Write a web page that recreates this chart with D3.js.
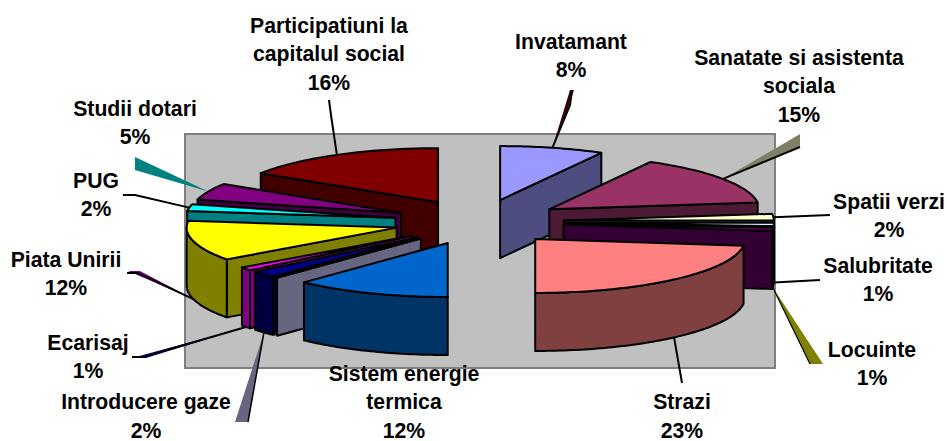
<!DOCTYPE html>
<html>
<head>
<meta charset="utf-8">
<script src="https://cdnjs.cloudflare.com/ajax/libs/d3/7.8.5/d3.min.js"></script>
<style>
html,body{margin:0;padding:0;background:#fff;overflow:hidden}
svg{display:block}
text{font-family:"Liberation Sans",Arial,sans-serif;font-weight:bold;font-size:21.2px;fill:#000;text-anchor:middle}
</style>
</head>
<body>
<svg id="chart" width="947" height="441"></svg>
<script>
// ---- data (clockwise from 12 o'clock) ----
const categories = ["Invatamant","Sanatate si asistenta sociala","Spatii verzi","Salubritate","Locuinte","Strazi",
  "Sistem energie termica","","Introducere gaze","Ecarisaj","Piata Unirii","PUG","Studii dotari","Participatiuni la capitalul social"];
const values = [8,15,2,1,1,23,12,0,2,1,12,2,5,16];
const topColors = ["#9999FF","#993366","#FFFFCC","#CCFFFF","#660066","#FF8080","#0066CC","#CCCCFF","#000080","#FF00FF","#FFFF00","#00FFFF","#800080","#800000"];

// ---- layout (not data) ----
const labelLines = [["Invatamant"],["Sanatate si asistenta","sociala"],["Spatii verzi"],["Salubritate"],["Locuinte"],["Strazi"],
  ["Sistem energie","termica"],null,["Introducere gaze"],["Ecarisaj"],["Piata Unirii"],["PUG"],["Studii dotari"],["Participatiuni la","capitalul social"]];
const labelCenters = [[571,41],[799,57],[889,201],[878,265],[872,349],[682,401.5],[404,373],null,[146,401.5],[88,342],[66,259],[96,180],[135,108],[329,25]];
const leaderPaths = [[[570,105],[572,90]],[[800,147]],[[830,215]],[[820,280]],[[810,364]],[[682,383]],null,null,[[248,422]],[[143,357],[132,357]],[[138,273],[127,273]],[[135,195],[123,195]],[],[[331,115],[329,100]]];
const leaderWidths = [2,2,2,2,1.2,2,2,2,1.5,2,2,2,1,2];
const leaderWedges = [
  {i:0, pts:[[568,108],[574,90],[570,90]], fill:"#400000"},
  {i:1, pts:[[800,134],[800,147]], fill:"#808066"},
  {i:4, pts:[[810,364],[823,364]], fill:"#808000"},
  {i:8, pts:[[248,422],[235,422]], fill:"#666680"},
  {i:9, pts:[[132,358],[146,358]], fill:"#000080"},
  {i:10,pts:[[140,271],[128,271]], fill:"#800080"},
  {i:12,pts:[[135,170],[135,157]], fill:"#008080"}
];
const plot = {x0:185, y0:134, x1:775, y1:368};
const cx = 479, cy = 222, rx = 210, ry = 54, depth = 58;
const explodeX = 85/210, explodeY = 22.6/54;
const lineH = 28.5;

// ---- drawing ----
const svg = d3.select("#chart");
const x = d3.scaleLinear().domain([-1,1]).range([cx-rx,cx+rx]);
const y = d3.scaleLinear().domain([-1,1]).range([cy+ry,cy-ry]);
const wall = c => { const k=d3.rgb(c); return d3.rgb(k.r/2,k.g/2,k.b/2).formatHex(); };
const line = d3.line();

svg.append("rect").attr("x",plot.x0).attr("y",plot.y0).attr("width",plot.x1-plot.x0).attr("height",plot.y1-plot.y0)
  .attr("fill","#C0C0C0").attr("stroke","#808080").attr("stroke-width",2);

const arcs = d3.pie().sort(null).startAngle(0).endAngle(2*Math.PI)(values).map((d,i)=>{
  const mid=(d.startAngle+d.endAngle)/2;
  return {i, a0:d.startAngle, a1:d.endAngle, mid,
    ux:Math.sin(mid)*explodeX, uy:Math.cos(mid)*explodeY};
});
const pt = (s,a,r=1)=>[x(s.ux+Math.sin(a)*r), y(s.uy+Math.cos(a)*r)];
const apex = s=>[x(s.ux),y(s.uy)];
const down = p=>[p[0],p[1]+depth];
const samples = (a,b)=>{const n=Math.max(2,Math.ceil((b-a)/0.02));return d3.range(n+1).map(k=>a+(b-a)*k/n);};

const order = arcs.slice().sort((p,q)=>Math.cos(q.mid)-Math.cos(p.mid));
const pieG = svg.append("g").attr("stroke","#000").attr("stroke-width",2).attr("stroke-linejoin","round");
order.forEach(s=>{
  const c=topColors[s.i], w=wall(c), A=apex(s);
  const poly=(pts,fill)=>pieG.append("path").attr("d",line(pts)+"Z").attr("fill",fill);
  if(Math.sin(s.a0)<-1e-6){const P=pt(s,s.a0);poly([A,P,down(P),down(A)],w);}
  if(Math.sin(s.a1)>1e-6){const P=pt(s,s.a1);poly([A,P,down(P),down(A)],w);}
  const lo=Math.max(s.a0,Math.PI/2), hi=Math.min(s.a1,3*Math.PI/2);
  if(hi>lo+1e-6){const top=samples(lo,hi).map(a=>pt(s,a));poly(top.concat(top.slice().reverse().map(down)),w);}
  poly([A].concat(samples(s.a0,s.a1).map(a=>pt(s,a))),c);
});

// leaders
const anchor = i=>{const s=arcs[i];const P=pt(s,s.mid);return Math.cos(s.mid)<0?down(P):P;};
leaderWedges.forEach(wd=>{
  const a=anchor(wd.i);
  svg.append("path").attr("d",line([a].concat(wd.pts))+"Z").attr("fill",wd.fill).attr("stroke","none");
});
const leadG=svg.append("g").attr("fill","none").attr("stroke","#000");
leaderPaths.forEach((p,i)=>{
  if(!p||!p.length) return;
  leadG.append("path").attr("stroke-width",leaderWidths[i]).attr("d",line([anchor(i)].concat(p)));
});

// labels
labelLines.forEach((ls,i)=>{
  if(!ls) return;
  const [lx,ly]=labelCenters[i];
  ls.concat([values[i]+"%"]).forEach((t,k)=>{
    svg.append("text").attr("x",lx).attr("y",ly+k*lineH).attr("dy","0.36em").text(t);
  });
});
</script>
</body>
</html>
